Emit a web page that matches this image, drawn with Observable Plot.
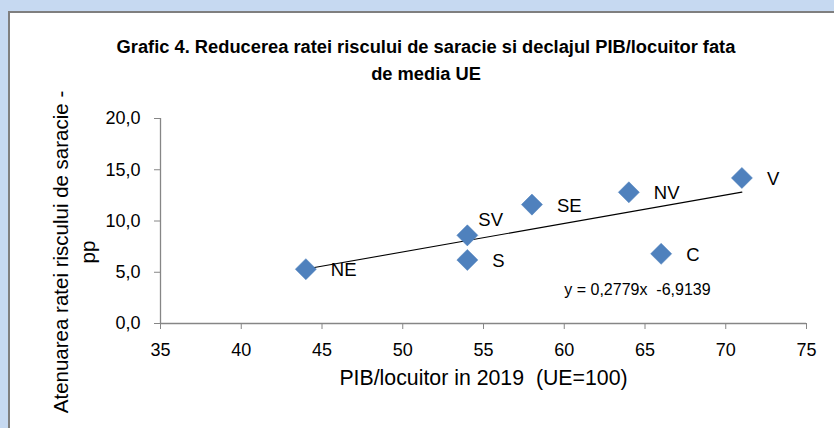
<!DOCTYPE html>
<html><head><meta charset="utf-8">
<script src="https://cdn.jsdelivr.net/npm/d3@7"></script>
<script src="https://cdn.jsdelivr.net/npm/@observablehq/plot@0.6"></script>
<style>
html,body{margin:0;padding:0;}
body{width:834px;height:428px;background:#c6d9f1;position:relative;overflow:hidden;font-family:"Liberation Sans",Arial,sans-serif;}
#panel{position:absolute;left:8px;top:11px;right:0;bottom:0;background:#fff;border-top:2px solid #7f7f7f;border-left:2px solid #7f7f7f;}
#title{position:absolute;left:-6px;top:33px;width:864px;text-align:center;font-weight:bold;font-size:18.3px;line-height:27px;color:#000;}
#chart{position:absolute;left:0;top:95px;}
</style></head><body>
<div id="panel"></div>
<div id="title">Grafic 4. Reducerea ratei riscului de saracie si declajul PIB/locuitor fata<br>de media UE</div>
<div id="chart"></div>
<script>
const regions = ["NE", "SV", "S", "SE", "NV", "C", "V"];
const gdpPerCapita = [44, 54, 54, 58, 64, 66, 71];
const povertyReduction = [5.3, 8.6, 6.2, 11.6, 12.8, 6.8, 14.2];
const xTicks = [35, 40, 45, 50, 55, 60, 65, 70, 75];
const yTicks = [0, 5, 10, 15, 20];
const trendSlope = 0.2779;
const trendIntercept = -6.9139;
const trendText = "y = 0,2779x  -6,9139";
const xTitle = "PIB/locuitor in 2019  (UE=100)";
const yTitle = "Atenuarea ratei riscului de saracie -\npp";

const points = regions.map((r, i) => ({region: r, x: gdpPerCapita[i], y: povertyReduction[i]}));
const trend = d3.extent(gdpPerCapita).map(x => ({x, y: trendSlope * x + trendIntercept}));
const font = '"Liberation Sans",Arial,sans-serif';
const axisGray = "#868686";
const fmt = d => d.toFixed(1).replace(".", ",");

const chart = Plot.plot({
  width: 834,
  height: 333,
  marginLeft: 160,
  marginRight: 28,
  marginTop: 23,
  marginBottom: 105,
  style: {fontFamily: font, fontSize: "17px", color: "#000", background: "transparent", overflow: "visible"},
  x: {domain: [35, 75], ticks: xTicks},
  y: {domain: [0, 20], ticks: yTicks},
  marks: [
    Plot.ruleY([0], {stroke: axisGray, strokeWidth: 1.3}),
    Plot.ruleX([35], {stroke: axisGray, strokeWidth: 1.3}),
    Plot.axisX({ticks: xTicks, tickSize: 6, tickPadding: 14, stroke: axisGray, fill: "#000", fontSize: 18, label: null, tickFormat: d => String(d)}),
    Plot.axisY({ticks: yTicks, tickSize: 6, tickPadding: 14, stroke: axisGray, fill: "#000", fontSize: 18, label: null, tickFormat: fmt}),
    Plot.line(trend, {x: "x", y: "y", stroke: "#000", strokeWidth: 1.1}),
    Plot.dot(points, {x: "x", y: "y", symbol: "diamond2", r: 9.5, fill: "#4f81bd", stroke: "#4f81bd", strokeWidth: 0.5}),
    Plot.text(points.filter(d => d.region !== "SV"), {x: "x", y: "y", text: "region", textAnchor: "start", dx: 25, dy: 1, fontSize: 18.5, fill: "#000"}),
    Plot.text(points.filter(d => d.region === "SV"), {x: "x", y: "y", text: "region", textAnchor: "start", dx: 11, dy: -15, fontSize: 18.5, fill: "#000"}),
    Plot.text([trendText], {x: 60, y: 3.3, text: d => d, textAnchor: "start", fontSize: 16, fill: "#000"}),
    Plot.text([xTitle], {frameAnchor: "bottom", text: d => d, dy: 61, fontSize: 21.3, fill: "#000"}),
    Plot.text([yTitle], {frameAnchor: "left", text: d => d, rotate: -90, dx: -88, dy: 31, fontSize: 20.5, lineHeight: 1.33, textAnchor: "middle", lineAnchor: "middle", fill: "#000"})
  ]
});
document.getElementById("chart").append(chart);
</script>
</body></html>
